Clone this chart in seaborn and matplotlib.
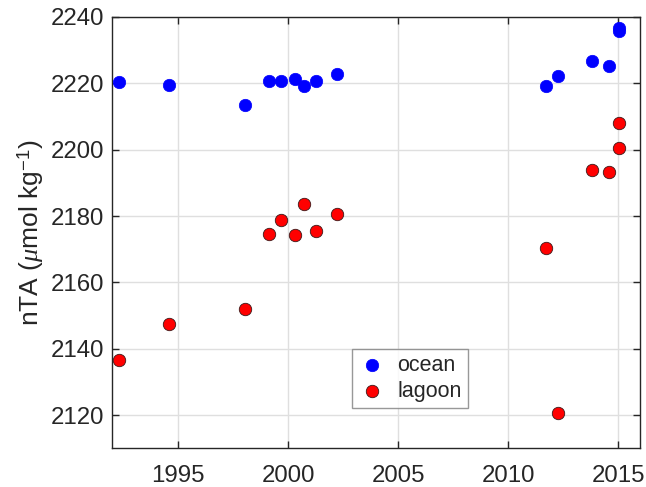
import matplotlib
matplotlib.use("Agg")
import matplotlib.pyplot as plt
import seaborn as sns
import pandas as pd

# Sampling years and normalised total alkalinity for each site
ocean_year = [1992.3, 1994.56, 1998.04, 1999.15, 1999.66, 2000.3, 2000.72,
              2001.25, 2002.2, 2011.71, 2012.25, 2013.83, 2014.59, 2015.04, 2015.04]
ocean_nta = [2220.5, 2219.5, 2213.6, 2220.7, 2220.7, 2221.3, 2219.2,
             2220.7, 2222.7, 2219.3, 2222.2, 2226.7, 2225.1, 2236.7, 2235.8]

lagoon_year = [1992.3, 1994.56, 1998.04, 1999.15, 1999.66, 2000.3, 2000.72,
               2001.25, 2002.2, 2011.71, 2012.25, 2013.83, 2014.59, 2015.04, 2015.04]
lagoon_nta = [2136.6, 2147.4, 2151.9, 2174.6, 2178.7, 2174.3, 2183.6,
              2175.4, 2180.6, 2170.5, 2120.7, 2193.9, 2193.4, 2208.1, 2200.4]

x_ticks = [1995, 2000, 2005, 2010, 2015]
y_ticks = [2120, 2140, 2160, 2180, 2200, 2220, 2240]

sns.set_theme(style="white")
plt.rcParams["font.family"] = ["Liberation Sans", "DejaVu Sans"]
plt.rcParams["mathtext.fontset"] = "custom"
plt.rcParams["mathtext.rm"] = "Liberation Sans"
plt.rcParams["mathtext.it"] = "Liberation Serif:italic"

df = pd.concat([
    pd.DataFrame({"year": ocean_year, "nta": ocean_nta, "site": "ocean"}),
    pd.DataFrame({"year": lagoon_year, "nta": lagoon_nta, "site": "lagoon"}),
], ignore_index=True)

fig = plt.figure(figsize=(6.46, 4.87), dpi=100)
ax = fig.add_axes([0.1738, 0.0795, 0.8169, 0.8856])

ax.grid(True, color="#dfdfdf", linewidth=1.0, zorder=0)
ax.set_axisbelow(True)

sns.scatterplot(data=df[df.site == "ocean"], x="year", y="nta", ax=ax,
                color="#0000ff", edgecolor="#0000ff", linewidth=0.5, s=80,
                label="ocean", zorder=3)
sns.scatterplot(data=df[df.site == "lagoon"], x="year", y="nta", ax=ax,
                color="#ff0000", edgecolor="#3a1a1a", linewidth=0.6, s=80,
                label="lagoon", zorder=3)

ax.set_xlim(1992, 2016)
ax.set_ylim(2110, 2240)
ax.set_xticks(x_ticks)
ax.set_yticks(y_ticks)
ax.set_xlabel("")
ax.set_ylabel(r"nTA ($\mu$mol kg$^{-1}$)", fontsize=19, color="#262626", labelpad=3)

for side in ["left", "right", "top", "bottom"]:
    ax.spines[side].set_visible(True)
    ax.spines[side].set_color("#262626")
    ax.spines[side].set_linewidth(1.0)

ax.tick_params(axis="both", which="major", direction="in", length=5, width=1.0,
               color="#262626", labelcolor="#262626", labelsize=17.3,
               top=True, right=True, bottom=True, left=True)
ax.tick_params(axis="x", pad=12)
ax.tick_params(axis="y", pad=6)

leg = ax.legend(loc="lower left", bbox_to_anchor=(0.454, 0.093), fontsize=15.5,
                frameon=True, fancybox=False, edgecolor="#7f7f7f", borderpad=0.3,
                handletextpad=0.5, labelspacing=0.22, handlelength=1.3,
                borderaxespad=0)
leg.get_frame().set_linewidth(1.0)

fig.savefig("out.png", dpi=100)
